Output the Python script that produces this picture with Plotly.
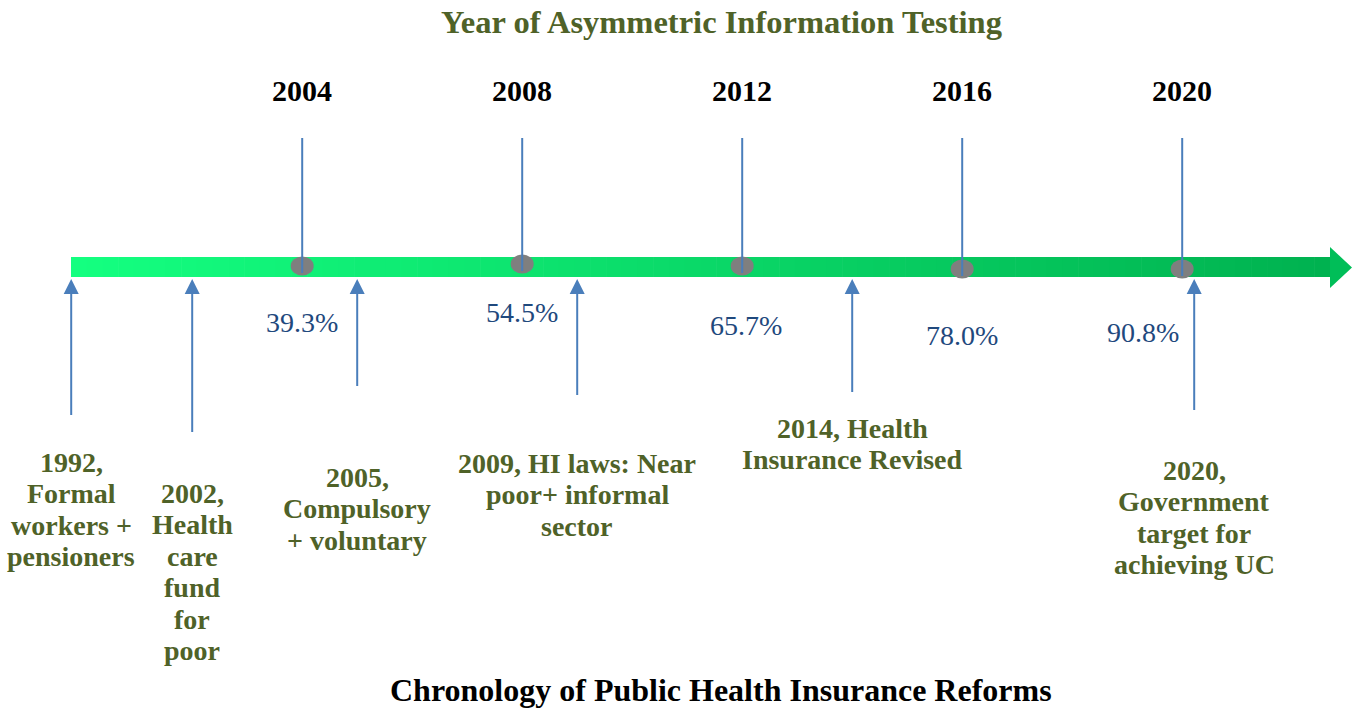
import plotly.graph_objects as go

# ---------------- data ----------------
test_years = [2004, 2008, 2012, 2016, 2020]
coverage_labels = ["39.3%", "54.5%", "65.7%", "78.0%", "90.8%"]
reform_years = [1992, 2002, 2005, 2009, 2014, 2020]
reform_texts = [
    ["1992,", "Formal", "workers +", "pensioners"],
    ["2002,", "Health", "care", "fund", "for", "poor"],
    ["2005,", "Compulsory", "+ voluntary"],
    ["2009, HI laws: Near", "poor+ informal", "sector"],
    ["2014, Health", "Insurance Revised"],
    ["2020,", "Government", "target for", "achieving UC"],
]
top_title = "Year of Asymmetric Information Testing"
bottom_title = "Chronology of Public Health Insurance Reforms"

# ---------------- layout helpers ----------------
W, H = 1362, 710
PX_PER_YEAR = 55.0
X_LEFT = 2012 - 742.2 / PX_PER_YEAR
X_RIGHT = X_LEFT + W / PX_PER_YEAR


def px(n):
    """pixel distance -> axis units"""
    return n / PX_PER_YEAR


def tpos(year):
    """timeline position: years before 2002 are compressed"""
    return year if year >= 2002 else 2002 - (2002 - year) * 0.22


FONT = "Liberation Serif, Times New Roman, serif"
GREEN_TXT = "#4F6228"
BLUE_LINE = "#4A7EBB"
BLUE_TXT = "#1F497D"

# styling / placement (pixels)
BAR_Y0, BAR_Y1 = 257, 277
BAR_X0_PX, BAR_X1_PX, TIP_PX = 71, 1330, 1352
HEAD_Y0, HEAD_Y1 = 247, 288
TOP_LINE_Y = 138
TITLE_CX_PX = 721
marker_y = [266, 264, 266, 269, 269]
cov_y = [322, 312, 325, 335, 332]
cov_dx = [0, 0, 4, 0, -39]
arrow_tip_y = 279
arrow_dx = [0, 0, 0, 0, 0, 12]
arrow_tail_y = [415, 432, 386, 395, 392, 410]
label_y0 = [462, 493, 477, 463, 428, 470]
LINE_STEP = 31.5

fig = go.Figure()
shapes = []
annotations = []

# gradient timeline bar
N = 80
x_start = X_LEFT + px(BAR_X0_PX)
x_end = X_LEFT + px(BAR_X1_PX)
c0 = (20, 255, 128)
c1 = (0, 178, 80)
for i in range(N):
    t = i / (N - 1)
    col = tuple(round(c0[k] + (c1[k] - c0[k]) * t) for k in range(3))
    xa = x_start + (x_end - x_start) * i / N
    xb = x_start + (x_end - x_start) * (i + 1) / N + px(0.6)
    shapes.append(dict(type="rect", xref="x", yref="y", x0=xa, x1=min(xb, x_end),
                       y0=BAR_Y0, y1=BAR_Y1, line=dict(width=0),
                       fillcolor="rgb(%d,%d,%d)" % col, layer="below"))
# arrow head
hx0 = x_end
hx1 = X_LEFT + px(TIP_PX)
shapes.append(dict(type="path", xref="x", yref="y",
                   path="M %f,%f L %f,%f L %f,%f Z" % (hx0, HEAD_Y0, hx1, (HEAD_Y0 + HEAD_Y1) / 2, hx0, HEAD_Y1),
                   fillcolor="rgb(0,190,88)", line=dict(width=0), layer="below"))

# testing-year markers
for yr, my in zip(test_years, marker_y):
    x = tpos(yr)
    shapes.append(dict(type="circle", xref="x", yref="y",
                       x0=x - px(11.5), x1=x + px(11.5), y0=my - 9.5, y1=my + 9.5,
                       fillcolor="#7F7F7F", line=dict(width=0), layer="below"))

# vertical lines from testing years
for yr, my in zip(test_years, marker_y):
    x = tpos(yr)
    fig.add_trace(go.Scatter(x=[x, x], y=[TOP_LINE_Y, my + 7], mode="lines",
                             line=dict(color=BLUE_LINE, width=2), hoverinfo="skip",
                             showlegend=False))

# year labels and coverage
for yr, lab, cy, dx in zip(test_years, coverage_labels, cov_y, cov_dx):
    x = tpos(yr)
    annotations.append(dict(x=x, y=90, xref="x", yref="y", text=str(yr), showarrow=False,
                            font=dict(family=FONT, size=30, color="black", weight="bold"),
                            xanchor="center", yanchor="middle"))
    annotations.append(dict(x=x + px(dx), y=cy, xref="x", yref="y", text=lab, showarrow=False,
                            font=dict(family=FONT, size=28, color=BLUE_TXT),
                            xanchor="center", yanchor="middle"))

# reform arrows + labels
for yr, lines, ty, ly, adx in zip(reform_years, reform_texts, arrow_tail_y, label_y0, arrow_dx):
    x = tpos(yr) + px(adx)
    fig.add_trace(go.Scatter(x=[x, x], y=[ty, arrow_tip_y + 12], mode="lines",
                             line=dict(color=BLUE_LINE, width=2), hoverinfo="skip",
                             showlegend=False))
    shapes.append(dict(type="path", xref="x", yref="y",
                       path="M %f,%f L %f,%f L %f,%f Z" % (x - px(7.5), arrow_tip_y + 15,
                                                          x, arrow_tip_y,
                                                          x + px(7.5), arrow_tip_y + 15),
                       fillcolor=BLUE_LINE, line=dict(width=0), layer="above"))
    for j, line in enumerate(lines):
        annotations.append(dict(x=x, y=ly + j * LINE_STEP, xref="x", yref="y", text=line,
                                showarrow=False,
                                font=dict(family=FONT, size=28, color=GREEN_TXT, weight="bold"),
                                xanchor="center", yanchor="middle"))

# titles
title_x = X_LEFT + px(TITLE_CX_PX)
annotations.append(dict(x=title_x, y=22, xref="x", yref="y", text=top_title, showarrow=False,
                        font=dict(family=FONT, size=32.5, color=GREEN_TXT, weight="bold"),
                        xanchor="center", yanchor="middle"))
annotations.append(dict(x=title_x, y=690, xref="x", yref="y", text=bottom_title, showarrow=False,
                        font=dict(family=FONT, size=32, color="black", weight="bold"),
                        xanchor="center", yanchor="middle"))

fig.update_layout(
    width=W, height=H,
    margin=dict(l=0, r=0, t=0, b=0),
    paper_bgcolor="white", plot_bgcolor="white",
    xaxis=dict(range=[X_LEFT, X_RIGHT], visible=False, fixedrange=True),
    yaxis=dict(range=[H, 0], visible=False, fixedrange=True),
    shapes=shapes, annotations=annotations,
    showlegend=False,
)

fig.write_html("out.html", config={"displayModeBar": False},
               post_script="document.body.style.margin='0';document.body.style.overflow='hidden';")
